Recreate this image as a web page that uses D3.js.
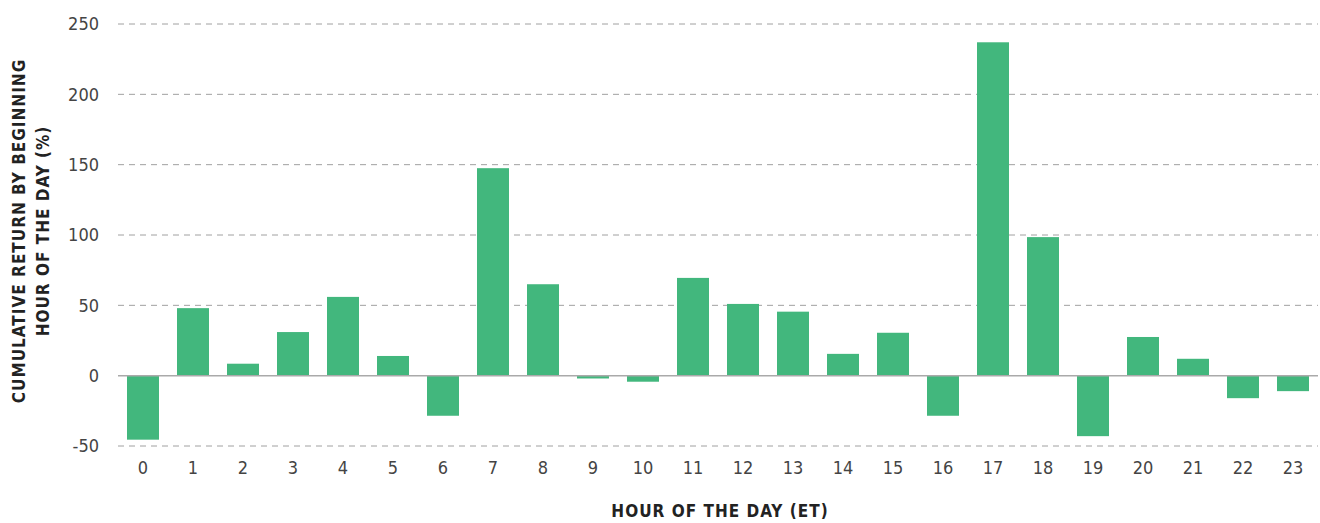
<!DOCTYPE html>
<html>
<head>
<meta charset="utf-8">
<script src="https://cdn.jsdelivr.net/npm/d3@7"></script>
<style>
  body { margin: 0; background: #fff; }
  .tick text { font-family: "DejaVu Sans Condensed", "DejaVu Sans", sans-serif; fill: #444; }
</style>
</head>
<body>
<script>
var w = 1320;
var h = 523;

var hours = ["0","1","2","3","4","5","6","7","8","9","10","11","12","13","14","15","16","17","18","19","20","21","22","23"];
var returns = [-45.5, 48, 8.5, 31, 56, 14, -28.5, 147.5, 65, -2, -4.3, 69.5, 51, 45.5, 15.5, 30.5, -28.5, 237, 98.5, -43, 27.5, 12, -16, -11];
var yTicks = [-50, 0, 50, 100, 150, 200, 250];

var svg = d3.select("body")
    .append("svg")
    .attr("width", w)
    .attr("height", h);

var x = d3.scaleBand()
    .domain(hours)
    .range([118, 1318])
    .paddingInner(0.36)
    .paddingOuter(0.18);

var y = d3.scaleLinear()
    .domain([-50, 250])
    .range([446, 24]);

// grid lines
svg.selectAll("line.grid")
    .data(yTicks.filter(function (d) { return d !== 0; }))
    .enter()
    .append("line")
    .attr("class", "grid")
    .attr("x1", 118)
    .attr("x2", 1318)
    .attr("y1", function (d) { return y(d); })
    .attr("y2", function (d) { return y(d); })
    .attr("stroke", "#a0a0a0")
    .attr("stroke-width", 1)
    .attr("stroke-dasharray", "6,5");

// y axis labels (plain hyphen for negatives, like the original)
var yAxis = d3.axisLeft(y)
    .tickValues(yTicks)
    .tickFormat(function (d) { return String(d); })
    .tickSize(0)
    .tickPadding(0);
svg.append("g")
    .attr("transform", "translate(99,0)")
    .call(yAxis)
    .call(function (g) { g.select(".domain").remove(); })
    .selectAll("text")
    .attr("font-size", 18);

// bars
svg.selectAll("rect.bar")
    .data(returns)
    .enter()
    .append("rect")
    .attr("class", "bar")
    .attr("x", function (d, i) { return x(hours[i]); })
    .attr("y", function (d) { return d >= 0 ? y(d) : y(0); })
    .attr("width", x.bandwidth())
    .attr("height", function (d) { return Math.abs(y(d) - y(0)); })
    .attr("fill", "#42b77d");

// zero line
svg.append("line")
    .attr("x1", 118)
    .attr("x2", 1318)
    .attr("y1", y(0))
    .attr("y2", y(0))
    .attr("stroke", "#aaaaaa")
    .attr("stroke-width", 1.5);

// x axis labels
var xAxis = d3.axisBottom(x).tickSize(0).tickPadding(0);
svg.append("g")
    .attr("transform", "translate(0,461)")
    .call(xAxis)
    .call(function (g) { g.select(".domain").remove(); })
    .selectAll("text")
    .attr("font-size", 18);

// axis titles
svg.append("text")
    .attr("x", 720)
    .attr("y", 517)
    .attr("text-anchor", "middle")
    .attr("font-family", "DejaVu Sans Condensed, DejaVu Sans, sans-serif")
    .attr("font-weight", "bold")
    .attr("font-size", 17)
    .attr("letter-spacing", 1)
    .attr("fill", "#222")
    .text("HOUR OF THE DAY (ET)");

var yTitle = svg.append("text")
    .attr("transform", "translate(0,231) rotate(-90)")
    .attr("text-anchor", "middle")
    .attr("font-family", "DejaVu Sans Condensed, DejaVu Sans, sans-serif")
    .attr("font-weight", "bold")
    .attr("font-size", 17)
    .attr("letter-spacing", 1)
    .attr("fill", "#222");

yTitle.append("tspan").attr("x", 0).attr("y", 25).text("CUMULATIVE RETURN BY BEGINNING");
yTitle.append("tspan").attr("x", 0).attr("y", 49).text("HOUR OF THE DAY (%)");
</script>
</body>
</html>
